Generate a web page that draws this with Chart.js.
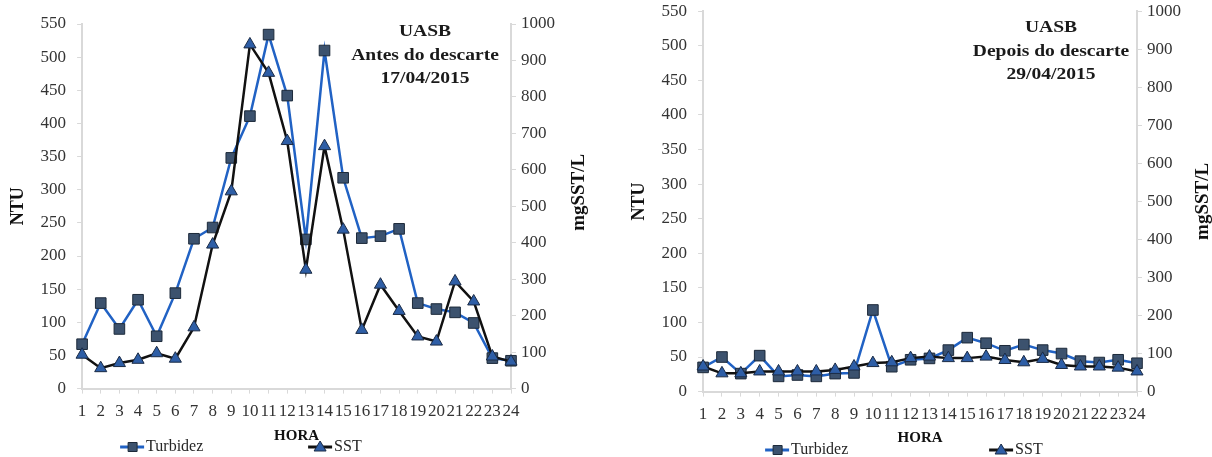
<!DOCTYPE html>
<html lang="pt">
<head>
<meta charset="UTF-8" />
<title>UASB - Turbidez e SST</title>
<script src="https://cdn.jsdelivr.net/npm/chart.js"></script>
<style>
  body { margin: 0; background: #fff; overflow: hidden; }
  .box { position: absolute; }
  #left { left: 0; top: 0; width: 605px; height: 457px; }
  #right { left: 620px; top: -10px; width: 592px; height: 467px; }
</style>
</head>
<body>
<div class="box" id="left"><canvas id="c1"></canvas></div>
<div class="box" id="right"><canvas id="c2"></canvas></div>
<script>
const horas = ["1","2","3","4","5","6","7","8","9","10","11","12",
  "13","14","15","16","17","18","19","20","21","22","23","24"];

// antes do descarte (17/04/2015)
const antesTurbidez = [67, 129, 90, 134, 79, 144, 226, 243, 348, 411, 534, 442,
  225, 510, 318, 227, 230, 241, 129, 120, 115, 99, 46, 42];
const antesSST = [93, 56, 70, 79, 97, 82, 168, 395, 541, 944, 866, 679,
  326, 665, 436, 161, 285, 213, 143, 129, 294, 239, 88, 74];
const antesTitulo = ["UASB", "Antes do descarte", "17/04/2015"];

// depois do descarte (29/04/2015)
const depoisTurbidez = [35, 50, 26, 52, 22, 24, 22, 26, 27, 118, 36, 46,
  48, 60, 78, 70, 59, 68, 60, 55, 44, 42, 46, 41];
const depoisSST = [66, 48, 48, 53, 53, 53, 53, 57, 66, 75, 77, 88,
  92, 88, 88, 92, 83, 77, 86, 70, 66, 66, 63, 53];
const depoisTitulo = ["UASB", "Depois do descarte", "29/04/2015"];

const serif = '"Liberation Serif", "Times New Roman", serif';
const axisGray = "#d9d9d9";

// title drawn inside the plot, top right (text is a bit stretched in the original)
const innerTitle = {
  id: "innerTitle",
  afterDraw(chart, args, opts) {
    const ctx = chart.ctx;
    ctx.save();
    ctx.font = "bold 17px " + serif;
    ctx.fillStyle = "#1a1a1a";
    ctx.textAlign = "center";
    ctx.textBaseline = "middle";
    ctx.translate(chart.chartArea.right - opts.right, 0);
    ctx.scale(1.15, 1);
    opts.lines.forEach((t, i) => ctx.fillText(t, 0, opts.top + i * 23.5));
    ctx.restore();
  }
};

// right axis title reads bottom to top in the original
const rightTitle = {
  id: "rightTitle",
  afterDraw(chart, args, opts) {
    const ctx = chart.ctx;
    const a = chart.chartArea;
    ctx.save();
    ctx.translate(a.right + opts.dx, (a.top + a.bottom) / 2 + opts.dy);
    ctx.rotate(-Math.PI / 2);
    ctx.font = "bold 19px " + serif;
    ctx.fillStyle = "#111";
    ctx.textAlign = "center";
    ctx.textBaseline = "middle";
    ctx.fillText(opts.text, 0, 0);
    ctx.restore();
  }
};

// legend split around the HORA title, like the excel one
const splitLegend = {
  id: "splitLegend",
  afterDraw(chart, args, opts) {
    const ctx = chart.ctx;
    ctx.save();
    ctx.font = "16px " + serif;
    ctx.textBaseline = "middle";
    chart.data.datasets.forEach((ds) => {
      const x = chart.chartArea.left + opts.offsets[ds.label];
      const y = opts.y;
      ctx.strokeStyle = ds.borderColor;
      ctx.lineWidth = 3;
      ctx.beginPath();
      ctx.moveTo(x, y);
      ctx.lineTo(x + 24, y);
      ctx.stroke();
      ctx.fillStyle = ds.pointBackgroundColor;
      ctx.strokeStyle = ds.pointBorderColor;
      ctx.lineWidth = 1;
      ctx.beginPath();
      if (ds.pointStyle === "rect") {
        ctx.rect(x + 8, y - 4.5, 9, 9);
      } else {
        ctx.moveTo(x + 12, y - 6);
        ctx.lineTo(x + 18, y + 4);
        ctx.lineTo(x + 6, y + 4);
        ctx.closePath();
      }
      ctx.fill();
      ctx.stroke();
      ctx.fillStyle = "#262626";
      ctx.fillText(ds.label, x + 26, y);
    });
    ctx.restore();
  }
};

function makeChart(id, turbidez, sst, titulo, lay) {
  const tickFont = { family: serif, size: 17 };
  return new Chart(document.getElementById(id), {
    type: "line",
    data: {
      labels: horas,
      datasets: [
        {
          label: "Turbidez",
          data: turbidez,
          yAxisID: "y",
          order: 1,
          borderColor: "#2162c4",
          borderWidth: 2.5,
          pointStyle: "rect",
          pointRadius: 7.5,
          pointBackgroundColor: "#3c526e",
          pointBorderColor: "#1d2a3a",
          pointBorderWidth: 1,
          tension: 0,
        },
        {
          label: "SST",
          data: sst,
          yAxisID: "y1",
          order: 0,
          borderColor: "#111111",
          borderWidth: 2.5,
          pointStyle: "triangle",
          pointRadius: 7,
          pointBackgroundColor: "#2e5ea6",
          pointBorderColor: "#1a2a44",
          pointBorderWidth: 1,
          tension: 0,
        },
      ],
    },
    options: {
      responsive: true,
      maintainAspectRatio: false,
      animation: false,
      layout: { padding: lay.padding },
      plugins: {
        legend: { display: false },
        tooltip: { enabled: false },
        innerTitle: { lines: titulo, right: 86, top: lay.titleTop },
        rightTitle: { text: "mgSST/L", dx: lay.rtDx, dy: lay.rtDy },
        splitLegend: { y: lay.legendY, offsets: lay.legendX },
      },
      scales: {
        x: {
          offset: false,
          grid: { drawOnChartArea: false, tickLength: 5, color: axisGray },
          border: { color: axisGray, width: 2 },
          ticks: { font: tickFont, color: "#333", maxRotation: 0, autoSkip: false, padding: 8 },
          title: { display: true, text: "HORA", font: { family: serif, size: 15, weight: "bold" },
                   color: "#111", padding: { top: lay.xTitlePad, bottom: 0 } },
        },
        y: {
          position: "left",
          min: 0,
          max: 550,
          grid: { drawOnChartArea: false, tickLength: 5, color: axisGray },
          border: { color: axisGray, width: 2 },
          ticks: { stepSize: 50, font: tickFont, color: "#333", padding: 11 },
          title: { display: true, text: "NTU", font: { family: serif, size: 18, weight: "bold" },
                   color: "#111", padding: { top: 1, bottom: 0 } },
        },
        y1: {
          position: "right",
          min: 0,
          max: 1000,
          grid: { drawOnChartArea: false, tickLength: 5, color: axisGray },
          border: { color: axisGray, width: 2 },
          ticks: { stepSize: 100, font: tickFont, color: "#333", padding: 5,
                   callback: (v) => String(v) },
        },
      },
    },
    plugins: [innerTitle, rightTitle, splitLegend],
  });
}

makeChart("c1", antesTurbidez, antesSST, antesTitulo, {
  padding: { top: 24, bottom: 12, left: 7, right: 45 },
  xTitlePad: -3,
  titleTop: 32,
  rtDx: 68,
  rtDy: -14,
  legendY: 447,
  legendX: { Turbidez: 38, SST: 226 },
});

// this canvas starts 10px above the page, so the plot can reach y=10
makeChart("c2", depoisTurbidez, depoisSST, depoisTitulo, {
  padding: { top: 0, bottom: 10, left: 8, right: 26 },
  xTitlePad: -4,
  titleTop: 38,
  rtDx: 66,
  rtDy: 0,
  legendY: 460,
  legendX: { Turbidez: 62, SST: 286 },
});
</script>
</body>
</html>
